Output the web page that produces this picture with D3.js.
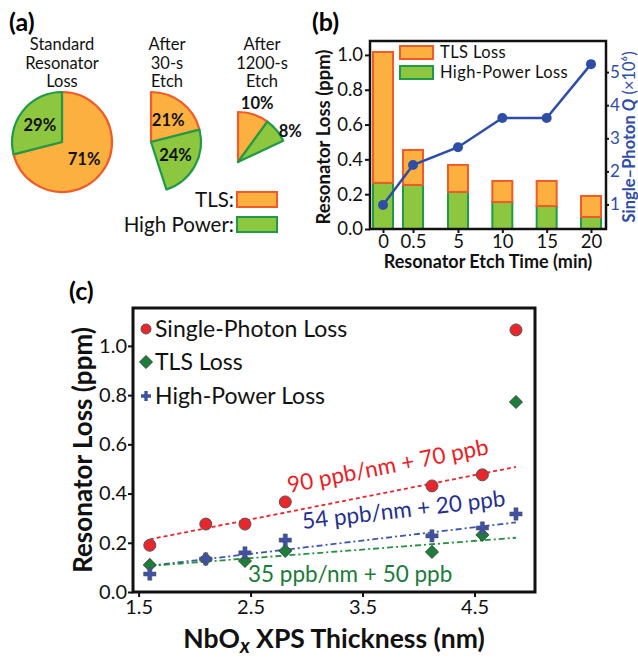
<!DOCTYPE html>
<html>
<head>
<meta charset="utf-8">
<script src="https://cdn.jsdelivr.net/npm/d3@7"></script>
<style>
  html, body { margin: 0; padding: 0; background: #fff; }
  svg { display: block; font-family: Lato, "Open Sans", sans-serif; }
</style>
</head>
<body>
<script>
// ---------------- DATA ----------------
// (a) pie charts
const pieTitles = [["Standard", "Resonator", "Loss"], ["After", "30-s", "Etch"], ["After", "1200-s", "Etch"]];
const pieTLS = [71, 21, 10];      // % of original loss
const pieHighPower = [29, 24, 8]; // % of original loss
const pieLegend = ["TLS:", "High Power:"];

// (b) bars + line
const etchTimes = [0, 0.5, 5, 10, 15, 20];
const etchTickLabels = ["0", "0.5", "5", "10", "15", "20"];
const highPowerLossB = [0.265, 0.253, 0.213, 0.155, 0.132, 0.069];
const tlsLossB = [0.752, 0.201, 0.155, 0.121, 0.144, 0.121];
const singlePhotonQ = [0.98, 2.19, 2.73, 3.61, 3.61, 5.24];
const lossTicksB = [0, 0.2, 0.4, 0.6, 0.8, 1.0];
const qTicks = [1, 2, 3, 4, 5];
const legendB = ["TLS Loss", "High-Power Loss"];

// (c) scatter + fits
const thickness = [1.6, 2.1, 2.45, 2.81, 4.12, 4.57, 4.87];
const singlePhotonLoss = [0.19, 0.276, 0.276, 0.366, 0.431, 0.476, 1.065];
const tlsLossC = [0.11, 0.134, 0.126, 0.167, 0.163, 0.232, 0.772];
const highPowerLossC = [0.073, 0.134, 0.159, 0.211, 0.228, 0.26, 0.317];
const fitSlopes = [0.090, 0.054, 0.035];      // ppm per nm
const fitIntercepts = [0.070, 0.020, 0.050];  // ppm
const fitRange = [1.6, 4.87];
const fitLabels = ["90 ppb/nm + 70 ppb", "54 ppb/nm + 20 ppb", "35 ppb/nm + 50 ppb"];
const lossTicksC = [0, 0.2, 0.4, 0.6, 0.8, 1.0];
const thicknessTicks = [1.5, 2.5, 3.5, 4.5];
const legendC = ["Single-Photon Loss", "TLS Loss", "High-Power Loss"];

// ---------------- STYLE ----------------
const ORANGE = "#FBB040", ORANGE_EDGE = "#F15A29";
const GREEN = "#8DC63F", GREEN_EDGE = "#1E9A48";
const BLUE_LINE = "#2E4DA7";
const RED = "#E8262B", RED_TXT = "#EC1C24";
const DGREEN = "#1D7E3C", DGREEN_TXT = "#1B7B39";
const PBLUE = "#3F51A3", NAVY_TXT = "#262F8F";

const svg = d3.select("body").append("svg").attr("width", 638).attr("height", 658);

function panelLabel(t, x, y) {
  svg.append("text").attr("x", x).attr("y", y).attr("font-size", 25).attr("font-weight", 700).text(t);
}
panelLabel("(a)", 9, 31);
panelLabel("(b)", 312, 31);
panelLabel("(c)", 69, 300);

// ---------------- (a) ----------------
const pieCenters = [[62, 142], [151, 142], [238, 162]];
const pieTitleX = [62, 167, 262];
const pieR = 50;
const arc = d3.arc().innerRadius(0).outerRadius(pieR);
const labelArcIn = d3.arc().innerRadius(0).outerRadius(56);
const ga = svg.append("g");
pieTitles.forEach((lines, i) => {
  const t = ga.append("text").attr("text-anchor", "middle").attr("font-size", 16.5).attr("fill", "#111");
  lines.forEach((l, j) => t.append("tspan").attr("x", pieTitleX[i]).attr("y", 50 + j * 18.5).text(l));
  const a0 = 0, a1 = pieTLS[i] / 100 * 2 * Math.PI, a2 = a1 + pieHighPower[i] / 100 * 2 * Math.PI;
  const g = ga.append("g").attr("transform", `translate(${pieCenters[i][0]},${pieCenters[i][1]})`);
  const slices = [
    {startAngle: a0, endAngle: a1, fill: ORANGE, stroke: ORANGE_EDGE, v: pieTLS[i]},
    {startAngle: a1, endAngle: a2, fill: GREEN, stroke: GREEN_EDGE, v: pieHighPower[i]}
  ];
  g.selectAll("path").data(slices).join("path")
    .attr("d", d => arc(d)).attr("fill", d => d.fill).attr("stroke", d => d.stroke)
    .attr("stroke-width", 2.2).attr("stroke-linejoin", "round");
  slices.forEach((s, k) => {
    let x, y, anchor = "middle";
    if (i < 2) {
      [x, y] = labelArcIn.centroid(s);
    } else {
      const mid = (s.startAngle + s.endAngle) / 2;
      const rr = k === 0 ? 62 : 58;
      x = Math.sin(mid) * rr; y = -Math.cos(mid) * rr;
      if (k === 1) { anchor = "start"; x -= 4; y += 6; }
    }
    g.append("text").attr("x", x).attr("y", y).attr("dy", "0.35em").attr("text-anchor", anchor)
      .attr("font-size", 16.5).attr("font-weight", 700).attr("fill", "#111").text(s.v + "%");
  });
});
// pie legend
[[ORANGE, ORANGE_EDGE], [GREEN, GREEN_EDGE]].forEach((c, k) => {
  const yTop = 192 + k * 25;
  ga.append("text").attr("x", 234).attr("y", yTop + 15).attr("text-anchor", "end")
    .attr("font-size", 20.5).attr("fill", "#111").text(pieLegend[k]);
  ga.append("rect").attr("x", 237).attr("y", yTop).attr("width", 40).attr("height", 15)
    .attr("fill", c[0]).attr("stroke", c[1]).attr("stroke-width", 2);
});

// ---------------- (b) ----------------
const bL = 370, bR = 606, bT = 41, bB = 229;
const xb = d3.scaleLinear().domain([0, 0.5, 5, 20]).range([383, 413, 458, 591]);
const yb = d3.scaleLinear().domain([0, 1.08]).range([bB, bT]);
const yq = d3.scaleLinear().domain([0.257, 5.94]).range([bB, bT]);
const gb = svg.append("g");
const barW = 20;
gb.selectAll("rect.hp").data(etchTimes).join("rect").attr("class", "hp")
  .attr("x", d => xb(d) - barW / 2).attr("width", barW)
  .attr("y", (d, i) => yb(highPowerLossB[i])).attr("height", (d, i) => yb(0) - yb(highPowerLossB[i]))
  .attr("fill", GREEN).attr("stroke", GREEN_EDGE).attr("stroke-width", 2);
gb.selectAll("rect.tls").data(etchTimes).join("rect").attr("class", "tls")
  .attr("x", d => xb(d) - barW / 2).attr("width", barW)
  .attr("y", (d, i) => yb(highPowerLossB[i] + tlsLossB[i]))
  .attr("height", (d, i) => yb(highPowerLossB[i]) - yb(highPowerLossB[i] + tlsLossB[i]))
  .attr("fill", ORANGE).attr("stroke", ORANGE_EDGE).attr("stroke-width", 2);
// Q line
gb.append("path").datum(singlePhotonQ)
  .attr("d", d3.line().x((d, i) => xb(etchTimes[i])).y(d => yq(d)))
  .attr("fill", "none").attr("stroke", BLUE_LINE).attr("stroke-width", 2.5);
gb.selectAll("circle.q").data(singlePhotonQ).join("circle").attr("class", "q")
  .attr("cx", (d, i) => xb(etchTimes[i])).attr("cy", d => yq(d)).attr("r", 5).attr("fill", BLUE_LINE);
// frame
gb.append("rect").attr("x", bL).attr("y", bT).attr("width", bR - bL).attr("height", bB - bT)
  .attr("fill", "none").attr("stroke", "#111").attr("stroke-width", 2.5);
// axes
const axLb = gb.append("g").attr("transform", `translate(${bL},0)`)
  .call(d3.axisLeft(yb).tickValues(lossTicksB).tickFormat(d3.format(".1f")).tickSize(5).tickPadding(2));
const axBb = gb.append("g").attr("transform", `translate(0,${bB})`)
  .call(d3.axisBottom(xb).tickValues(etchTimes).tickFormat((d, i) => etchTickLabels[i]).tickSize(4).tickPadding(2));
const axRb = gb.append("g").attr("transform", `translate(${bR},0)`)
  .call(d3.axisRight(yq).tickValues(qTicks).tickFormat(d3.format("d")).tickSize(3).tickPadding(1));
[axLb, axBb].forEach(a => {
  a.select(".domain").remove();
  a.selectAll("text").attr("font-size", 18.5).attr("fill", "#111").attr("font-family", "Lato");
  a.selectAll("line").attr("stroke", "#111").attr("stroke-width", 2);
});
axRb.select(".domain").remove();
axRb.selectAll("text").attr("font-size", 17).attr("fill", BLUE_LINE).attr("font-family", "Lato");
axRb.selectAll("line").attr("stroke", "#111").attr("stroke-width", 2);
// titles
gb.append("text").attr("transform", `translate(324,${(bT + bB) / 2 + 2}) rotate(-90)`)
  .attr("text-anchor", "middle").attr("dy", "0.35em").attr("font-size", 18.5).attr("font-weight", 700)
  .attr("fill", "#111").text("Resonator Loss (ppm)");
gb.append("text").attr("x", (bL + bR) / 2).attr("y", 268).attr("text-anchor", "middle")
  .attr("font-size", 18).attr("font-weight", 700).attr("fill", "#111").text("Resonator Etch Time (min)");
const rt = gb.append("text").attr("transform", `translate(629,137) rotate(-90)`)
  .attr("text-anchor", "middle").attr("dy", "0.35em").attr("font-size", 16.5).attr("font-weight", 700)
  .attr("fill", BLUE_LINE);
rt.append("tspan").text("Single\u2013Photon ");
rt.append("tspan").attr("font-style", "italic").text("Q");
rt.append("tspan").attr("font-weight", 400).text(" (\u00d710\u2076)");
// legend
[[ORANGE, ORANGE_EDGE], [GREEN, GREEN_EDGE]].forEach((c, k) => {
  const yTop = 46 + k * 20;
  gb.append("rect").attr("x", 400).attr("y", yTop).attr("width", 33).attr("height", 13)
    .attr("fill", c[0]).attr("stroke", c[1]).attr("stroke-width", 2);
  gb.append("text").attr("x", 440).attr("y", yTop + 12).attr("font-size", 16.5)
    .attr("letter-spacing", 0.4).attr("fill", "#111").text(legendB[k]);
});

// ---------------- (c) ----------------
const cL = 133, cR = 535, cT = 308, cB = 592;
const xc = d3.scaleLinear().domain([1.45, 5.04]).range([cL, cR]);
const yc = d3.scaleLinear().domain([0, 1.154]).range([cB, cT]);
const gc = svg.append("g");
// fit lines
const fitColors = [RED, "#3B57B0", "#23903F"];
const fitDash = ["4,3", "6,3,2,3", "6,3,2,3"];
fitSlopes.forEach((m, k) => {
  gc.append("line")
    .attr("x1", xc(fitRange[0])).attr("y1", yc(m * fitRange[0] + fitIntercepts[k]))
    .attr("x2", xc(fitRange[1])).attr("y2", yc(m * fitRange[1] + fitIntercepts[k]))
    .attr("stroke", fitColors[k]).attr("stroke-width", 1.8).attr("stroke-dasharray", fitDash[k]);
});
// fit labels
const fitLabelColors = [RED_TXT, NAVY_TXT, DGREEN_TXT];
const fitLabelPos = [[289, 493, -11], [303, 529, -6.5], [248, 582, 0]];
fitLabels.forEach((t, k) => {
  const p = fitLabelPos[k];
  gc.append("text").attr("transform", `translate(${p[0]},${p[1]}) rotate(${p[2]})`)
    .attr("font-size", 22.5).attr("fill", fitLabelColors[k]).text(t);
});
// markers
const diamond = d3.symbol().type(d3.symbolDiamond2).size(110);
const cross = d3.symbol().type(d3.symbolCross).size(85);
gc.selectAll("path.tls").data(tlsLossC).join("path").attr("class", "tls")
  .attr("transform", (d, i) => `translate(${xc(thickness[i])},${yc(d)})`)
  .attr("d", diamond).attr("fill", DGREEN).attr("stroke", "#333").attr("stroke-width", 0.8);
gc.selectAll("path.hp").data(highPowerLossC).join("path").attr("class", "hp")
  .attr("transform", (d, i) => `translate(${xc(thickness[i])},${yc(d)})`)
  .attr("d", cross).attr("fill", PBLUE).attr("stroke", "#555").attr("stroke-width", 0.5);
gc.selectAll("circle.sp").data(singlePhotonLoss).join("circle").attr("class", "sp")
  .attr("cx", (d, i) => xc(thickness[i])).attr("cy", d => yc(d)).attr("r", 6)
  .attr("fill", RED).attr("stroke", "#555").attr("stroke-width", 1);
// frame
gc.append("rect").attr("x", cL).attr("y", cT).attr("width", cR - cL).attr("height", cB - cT)
  .attr("fill", "none").attr("stroke", "#111").attr("stroke-width", 3);
const axLc = gc.append("g").attr("transform", `translate(${cL},0)`)
  .call(d3.axisLeft(yc).tickValues(lossTicksC).tickFormat(d3.format(".1f")).tickSize(5).tickPadding(1));
const axBc = gc.append("g").attr("transform", `translate(0,${cB})`)
  .call(d3.axisBottom(xc).tickValues(thicknessTicks).tickFormat(d3.format(".1f")).tickSize(5).tickPadding(3));
[axLc, axBc].forEach(a => {
  a.select(".domain").remove();
  a.selectAll("text").attr("font-size", 20).attr("fill", "#111").attr("font-family", "Lato");
  a.selectAll("line").attr("stroke", "#111").attr("stroke-width", 2);
});
// titles
gc.append("text").attr("transform", `translate(83,${(cT + cB) / 2}) rotate(-90)`)
  .attr("text-anchor", "middle").attr("dy", "0.35em").attr("font-size", 26).attr("font-weight", 700)
  .attr("fill", "#111").text("Resonator Loss (ppm)");
const xt = gc.append("text").attr("x", 334).attr("y", 648).attr("text-anchor", "middle")
  .attr("font-size", 26.5).attr("font-weight", 700).attr("fill", "#111");
xt.append("tspan").text("NbO");
xt.append("tspan").attr("font-style", "italic").attr("font-size", 20).attr("dy", 5).text("x");
xt.append("tspan").attr("dy", -5).text(" XPS Thickness (nm)");
// legend
const legY = [329, 362, 396];
gc.append("circle").attr("cx", 146).attr("cy", legY[0]).attr("r", 5).attr("fill", RED).attr("stroke", "#555");
gc.append("path").attr("transform", `translate(146,${legY[1]})`).attr("d", diamond).attr("fill", DGREEN).attr("stroke", "#333").attr("stroke-width", 0.8);
gc.append("path").attr("transform", `translate(146,${legY[2]})`).attr("d", d3.symbol().type(d3.symbolCross).size(55)).attr("fill", PBLUE);
legendC.forEach((t, k) => {
  gc.append("text").attr("x", 155).attr("y", legY[k]).attr("dy", "0.35em")
    .attr("font-size", 23).attr("fill", "#111").text(t);
});
</script>
</body>
</html>
